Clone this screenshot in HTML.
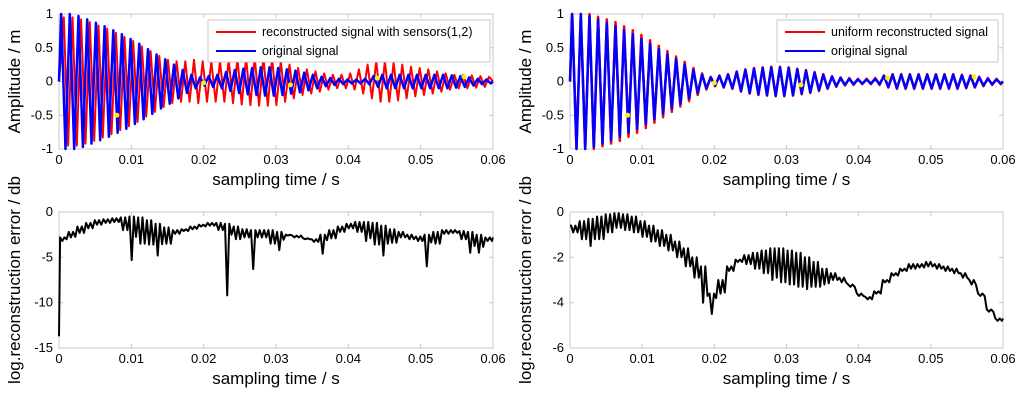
<!DOCTYPE html>
<html><head><meta charset="utf-8"><style>
body{margin:0;background:#fff;width:1024px;height:402px;overflow:hidden}
svg{display:block;font-family:"Liberation Sans",Arial,sans-serif}
</style></head><body>
<svg id="c" width="1024" height="402"></svg>
<script>
// ---------- data ----------
const xTicks=[0,0.01,0.02,0.03,0.04,0.05,0.06];
const xTickLabels=["0","0.01","0.02","0.03","0.04","0.05","0.06"];
const ampTicks=[1,0.5,0,-0.5,-1];
const ampTickLabels=["1","0.5","0","-0.5","-1"];
const errLTicks=[0,-5,-10,-15];
const errLTickLabels=["0","-5","-10","-15"];
const errRTicks=[0,-2,-4,-6];
const errRTickLabels=["0","-2","-4","-6"];
// amplitude per oscillation cycle
const originalAmp=[1.0,1.0,0.97,0.92,0.87,0.82,0.76,0.7,0.63,0.56,0.48,0.4,0.33,0.25,0.17,0.1,0.06,0.08,0.1,0.14,0.17,0.19,0.2,0.21,0.21,0.2,0.18,0.16,0.13,0.1,0.07,0.05,0.04,0.03,0.03,0.04,0.08,0.1,0.1,0.1,0.1,0.1,0.1,0.1,0.1,0.09,0.08,0.06,0.04,0.03];
const sensorReconAmp=[0.95,0.95,0.92,0.88,0.83,0.78,0.72,0.66,0.6,0.52,0.45,0.38,0.32,0.3,0.3,0.32,0.3,0.3,0.3,0.32,0.34,0.35,0.36,0.36,0.35,0.3,0.25,0.2,0.18,0.15,0.12,0.1,0.1,0.12,0.18,0.25,0.3,0.3,0.28,0.25,0.22,0.2,0.18,0.15,0.12,0.1,0.1,0.09,0.08,0.07];
const uniformReconAmp=[1.0,1.0,1.0,0.96,0.92,0.88,0.82,0.76,0.69,0.61,0.53,0.45,0.37,0.29,0.2,0.12,0.07,0.09,0.11,0.15,0.18,0.2,0.21,0.22,0.22,0.21,0.19,0.17,0.14,0.11,0.08,0.06,0.05,0.04,0.04,0.05,0.09,0.11,0.11,0.11,0.11,0.11,0.11,0.11,0.11,0.1,0.09,0.07,0.05,0.04];
// error curves: upper / lower value per cycle
const errLStart=-13.7;
const errLUpper=[-2.8,-2.2,-1.6,-1.2,-0.9,-0.8,-0.7,-0.6,-0.5,-0.6,-0.9,-1.3,-1.7,-2.0,-1.9,-1.6,-1.4,-1.2,-1.2,-1.3,-1.6,-1.9,-2.0,-2.0,-2.0,-2.2,-2.5,-2.8,-2.9,-3.0,-2.5,-2.0,-1.6,-1.3,-1.1,-1.1,-1.2,-1.5,-1.9,-2.2,-2.5,-2.7,-2.5,-2.2,-2.0,-2.0,-2.1,-2.2,-2.5,-2.8];
const errLLower=[-3.2,-2.8,-2.3,-1.8,-1.4,-1.2,-1.1,-2.0,-5.3,-3.5,-3.6,-4.8,-3.5,-2.4,-2.1,-1.9,-1.6,-1.5,-2.0,-9.2,-3.0,-2.8,-6.3,-2.8,-3.5,-4.2,-2.6,-2.6,-3.0,-3.3,-4.6,-2.9,-2.2,-1.8,-2.2,-3.2,-3.6,-4.8,-3.4,-2.8,-3.0,-3.2,-6.0,-3.5,-2.4,-2.3,-3.0,-4.5,-4.5,-3.2];
const errRUpper=[-0.6,-0.4,-0.3,-0.2,-0.1,-0.05,-0.1,-0.2,-0.4,-0.6,-0.8,-1.0,-1.3,-1.6,-2.0,-2.4,-3.6,-3.0,-2.4,-2.1,-1.9,-1.8,-1.7,-1.6,-1.6,-1.7,-1.8,-2.0,-2.2,-2.5,-2.7,-2.9,-3.2,-3.6,-3.75,-3.5,-3.0,-2.7,-2.5,-2.3,-2.3,-2.2,-2.3,-2.4,-2.5,-2.7,-3.0,-3.6,-4.3,-4.7];
const errRLower=[-0.9,-1.2,-1.5,-1.2,-0.9,-0.7,-0.8,-0.9,-1.1,-1.3,-1.5,-1.7,-2.0,-2.4,-2.9,-4.0,-4.5,-3.6,-2.6,-2.2,-2.3,-2.5,-2.7,-3.0,-3.1,-3.2,-3.3,-3.4,-3.3,-3.2,-3.0,-3.1,-3.3,-3.7,-3.85,-3.6,-3.1,-2.8,-2.6,-2.5,-2.45,-2.4,-2.5,-2.6,-2.7,-2.9,-3.2,-3.7,-4.4,-4.8];
const sampleT=[0.008,0.02,0.032,0.044,0.056];
const sampleV=[-0.5,-0.02,-0.05,0.05,0.07];

// ---------- drawing ----------
const NS="http://www.w3.org/2000/svg";
const svg=document.getElementById('c');
function mk(tag,attrs,parent){const e=document.createElementNS(NS,tag);for(const k in attrs)e.setAttribute(k,attrs[k]);(parent||svg).appendChild(e);return e;}
function panel(name,x0,x1,y0,y1,ymax,ymin,yTicks,yLabels,ytitle){
  const g=mk('g',{});
  
  
  const sx=t=>x0+(t-0)/(0.06)*(x1-x0);
  const sy=v=>y0+(ymax-v)/(ymax-ymin)*(y1-y0);
  const box=mk('rect',{x:x0,y:y0,width:x1-x0,height:y1-y0,fill:'#fff',stroke:'#c8c8c8','stroke-width':1},g);
  
  
  xTicks.forEach((t,i)=>{
    mk('line',{x1:sx(t),x2:sx(t),y1:y1,y2:y1-4,stroke:'#c8c8c8'},g);
    mk('line',{x1:sx(t),x2:sx(t),y1:y0,y2:y0+4,stroke:'#c8c8c8'},g);
    const tx=mk('text',{x:sx(t),y:y1+15,'font-size':13,'text-anchor':'middle',fill:'#000'},g);
    tx.textContent=xTickLabels[i];
    
    
  });
  yTicks.forEach((v,i)=>{
    mk('line',{x1:x0,x2:x0+4,y1:sy(v),y2:sy(v),stroke:'#c8c8c8'},g);
    mk('line',{x1:x1,x2:x1-4,y1:sy(v),y2:sy(v),stroke:'#c8c8c8'},g);
    const tx=mk('text',{x:x0-6,y:sy(v)+4,'font-size':13,'text-anchor':'end',fill:'#000'},g);
    tx.textContent=yLabels[i];
    
    
  });
  const xt=mk('text',{x:(x0+x1)/2,y:y1+36,'font-size':17,'text-anchor':'middle',fill:'#000'},g);
  xt.textContent='sampling time / s';
  
  
  const cy=(y0+y1)/2;
  const yt=mk('text',{x:x0-39,y:cy,'font-size':17,'text-anchor':'middle',fill:'#000',transform:`rotate(-90 ${x0-39} ${cy})`},g);
  yt.textContent=ytitle;
  
  
  return {g,sx,sy};
}
function oscPath(p,amps,phase,color,w,name){
  const P=0.06/amps.length;
  let pts=[[0,0]];
  amps.forEach((a,i)=>{
    pts.push([(i+0.25+phase)*P,a]);
    pts.push([(i+0.75+phase)*P,-a]);
  });
  pts.push([0.06,0]);
  pts=pts.filter(q=>q[0]>=0&&q[0]<=0.06);
  const d=pts.map((q,i)=>(i?'L':'M')+p.sx(q[0]).toFixed(1)+','+p.sy(q[1]).toFixed(1)).join('');
  const e=mk('path',{d,fill:'none',stroke:color,'stroke-width':w,'stroke-linejoin':'round'},p.g);
  
  
}
function errPath(p,up,lo,start,name){
  const n=up.length,P=0.06/n;
  const pts=[];
  pts.push([0,start!==null?start:up[0]]);
  for(let i=0;i<n;i++){
    const nb=(lo[Math.max(0,i-1)]+lo[Math.min(n-1,i+1)])/2;
    const lo2=Math.max(lo[i],Math.min(nb,up[i]-0.2));
    pts.push([(i+0.125)*P,up[i]]);
    pts.push([(i+0.375)*P,lo[i]]);
    pts.push([(i+0.625)*P,up[i]]);
    pts.push([(i+0.875)*P,lo2]);
  }
  pts.push([0.06,up[n-1]]);
  const d=pts.map((q,i)=>(i?'L':'M')+p.sx(q[0]).toFixed(1)+','+p.sy(q[1]).toFixed(1)).join('');
  const e=mk('path',{d,fill:'none',stroke:'#000','stroke-width':2,'stroke-linejoin':'round'},p.g);
  
  
}
function dots(p){
  sampleT.forEach((t,i)=>{
    const c=mk('circle',{cx:p.sx(t),cy:p.sy(sampleV[i]),r:2.5,fill:'#ffee00'},p.g);
    
    
  });
}
function legend(p,x,y,w,label){
  const lg=mk('g',{},p.g);
  
  
  mk('rect',{x,y,width:w,height:42,fill:'#fff',stroke:'#c8c8c8'},lg);
  [[label,'#ff0000'],['original signal','#0000ff']].forEach((it,i)=>{
    const yy=y+12+i*19;
    mk('line',{x1:x+8,x2:x+48,y1:yy,y2:yy,stroke:it[1],'stroke-width':2},lg);
    const t=mk('text',{x:x+54,y:yy+4,'font-size':12.5,fill:'#000'},lg);
    t.textContent=it[0];
    
    
  });
}
// top-left
const p1=panel('top-left-amplitude-chart',59,493,14,149,1,-1,ampTicks,ampTickLabels,'Amplitude / m');
oscPath(p1,sensorReconAmp,0.3,'#ff0000',2,'reconstructed-sensors-line');
oscPath(p1,originalAmp,0,'#0000ff',2.5,'original-signal-line');
dots(p1);
legend(p1,208,20,282,'reconstructed signal with sensors(1,2)');
// top-right
const p2=panel('top-right-amplitude-chart',570,1003,14,149,1,-1,ampTicks,ampTickLabels,'Amplitude / m');
oscPath(p2,uniformReconAmp,0,'#ff0000',2.5,'uniform-reconstructed-line');
oscPath(p2,originalAmp,0,'#0000ff',2.5,'original-signal-line');
dots(p2);
legend(p2,777,20,221,'uniform reconstructed signal');
// bottom-left
const p3=panel('bottom-left-error-chart',59,493,212,348,0,-15,errLTicks,errLTickLabels,'log.reconstruction error / db');
errPath(p3,errLUpper,errLLower,errLStart,'error-line-sensors');
// bottom-right
const p4=panel('bottom-right-error-chart',570,1003,212,348,0,-6,errRTicks,errRTickLabels,'log.reconstruction error / db');
errPath(p4,errRUpper,errRLower,null,'error-line-uniform');
</script>
</body></html>
